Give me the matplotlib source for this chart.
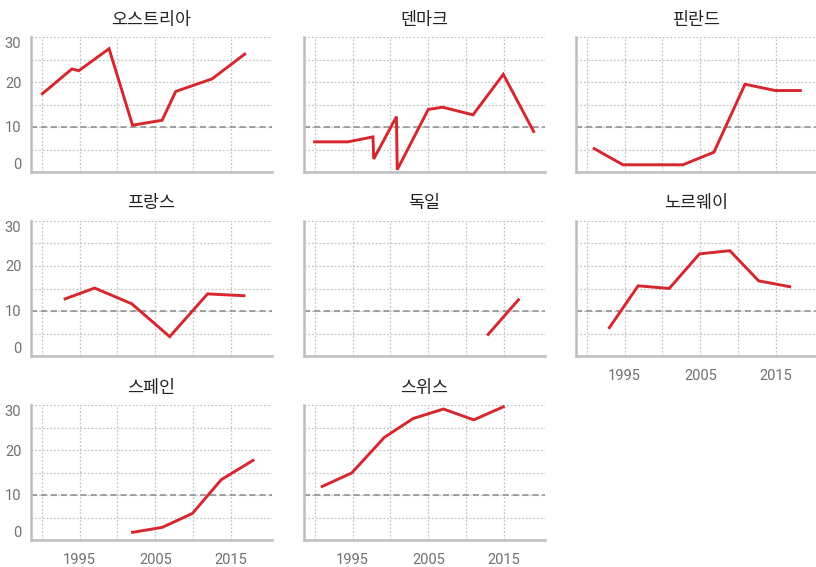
import matplotlib
matplotlib.use("Agg")
import matplotlib.pyplot as plt
from matplotlib.ticker import FixedLocator

plt.rcParams['font.family'] = ['Noto Sans CJK KR', 'DejaVu Sans']

countries = ["오스트리아", "덴마크", "핀란드", "프랑스", "독일", "노르웨이", "스페인", "스위스"]

austria_x = [1990.1, 1994.0, 1994.9, 1998.9, 2002.0, 2005.9, 2007.7, 2012.5, 2016.8]
austria_y = [17.4, 22.9, 22.5, 27.4, 10.4, 11.5, 17.9, 20.7, 26.2]

denmark_x = [1990.0, 1994.4, 1997.7, 1997.8, 2000.8, 2000.9, 2005.0, 2006.9, 2010.9, 2014.9, 2018.9]
denmark_y = [6.7, 6.7, 7.8, 2.9, 12.3, 0.5, 13.9, 14.4, 12.7, 21.7, 9.0]

finland_x = [1991.0, 1994.8, 1998.8, 2002.7, 2006.8, 2010.9, 2014.9, 2018.2]
finland_y = [5.2, 1.6, 1.6, 1.6, 4.4, 19.5, 18.1, 18.1]

france_x = [1993.1, 1997.0, 2001.9, 2006.9, 2011.9, 2016.7]
france_y = [12.7, 15.1, 11.6, 4.3, 13.8, 13.4]

germany_x = [2012.9, 2016.9]
germany_y = [4.8, 12.5]

norway_x = [1993.0, 1996.8, 2000.9, 2004.9, 2008.9, 2012.7, 2016.8]
norway_y = [6.3, 15.6, 15.0, 22.7, 23.4, 16.7, 15.4]

spain_x = [2002.0, 2005.9, 2009.9, 2013.7, 2017.9]
spain_y = [1.7, 2.8, 5.9, 13.4, 17.7]

swiss_x = [1991.0, 1994.9, 1999.2, 2003.0, 2007.0, 2011.0, 2014.9]
swiss_y = [11.9, 14.9, 22.8, 27.0, 29.1, 26.7, 29.6]

series = [(austria_x, austria_y), (denmark_x, denmark_y), (finland_x, finland_y),
          (france_x, france_y), (germany_x, germany_y), (norway_x, norway_y),
          (spain_x, spain_y), (swiss_x, swiss_y)]

year_ticks = [1995, 2005, 2015]
year_minor = [1990, 2000, 2010]
value_ticks = [0, 10, 20, 30]
value_minor = [5, 15, 25]

W, H = 816, 567
fig = plt.figure(figsize=(W / 100, H / 100), dpi=100)

col_left = [31, 304, 576]
row_top = [37, 221, 405]
aw, ah = 241, 135

RED = '#d6262e'
GRID = '#c4c4c4'
SPINE = '#bdbdc2'
TXT = '#707070'

for i, (name, (xs, ys)) in enumerate(zip(countries, series)):
    r, c = divmod(i, 3)
    ax = fig.add_axes([col_left[c] / W, 1 - (row_top[r] + ah) / H, aw / W, ah / H])
    ax.set_xlim(1988.6, 2020.4)
    ax.set_ylim(0, 30)
    ax.xaxis.set_major_locator(FixedLocator(year_ticks))
    ax.xaxis.set_minor_locator(FixedLocator(year_minor))
    ax.yaxis.set_major_locator(FixedLocator(value_ticks))
    ax.yaxis.set_minor_locator(FixedLocator(value_minor))
    ax.grid(True, which='both', color=GRID, linestyle=(0, (1.5, 1.5)), linewidth=0.9)
    ax.set_axisbelow(True)
    for s in ['top', 'right']:
        ax.spines[s].set_visible(False)
    for s in ['left', 'bottom']:
        ax.spines[s].set_color(SPINE)
        ax.spines[s].set_linewidth(1.8)
    ax.tick_params(which='both', length=0)
    ax.tick_params(axis='y', pad=7, labelsize=10.5, labelcolor=TXT)
    ax.tick_params(axis='x', pad=9, labelsize=10.5, labelcolor=TXT)
    ax.plot(xs, ys, color=RED, linewidth=2.1, solid_joinstyle='miter', zorder=3, clip_on=False)
    ax.axhline(10, color='#8a8a8a', linestyle=(0, (4, 2.5)), linewidth=1.1, zorder=2)
    ax.set_title(name, fontsize=12.5, color='#222222', pad=9)
    if c != 0:
        ax.set_yticklabels([])
    if not (r == 2 or (r == 1 and c == 2)):
        ax.set_xticklabels([])
    for t in ax.xaxis.get_major_ticks() + ax.yaxis.get_major_ticks():
        t.label1.set_family(['Roboto', 'DejaVu Sans'])
    yt = ax.yaxis.get_major_ticks()
    yt[0].label1.set_verticalalignment('bottom')
    yt[-1].label1.set_verticalalignment('top')

fig.savefig('out.png', dpi=100)
